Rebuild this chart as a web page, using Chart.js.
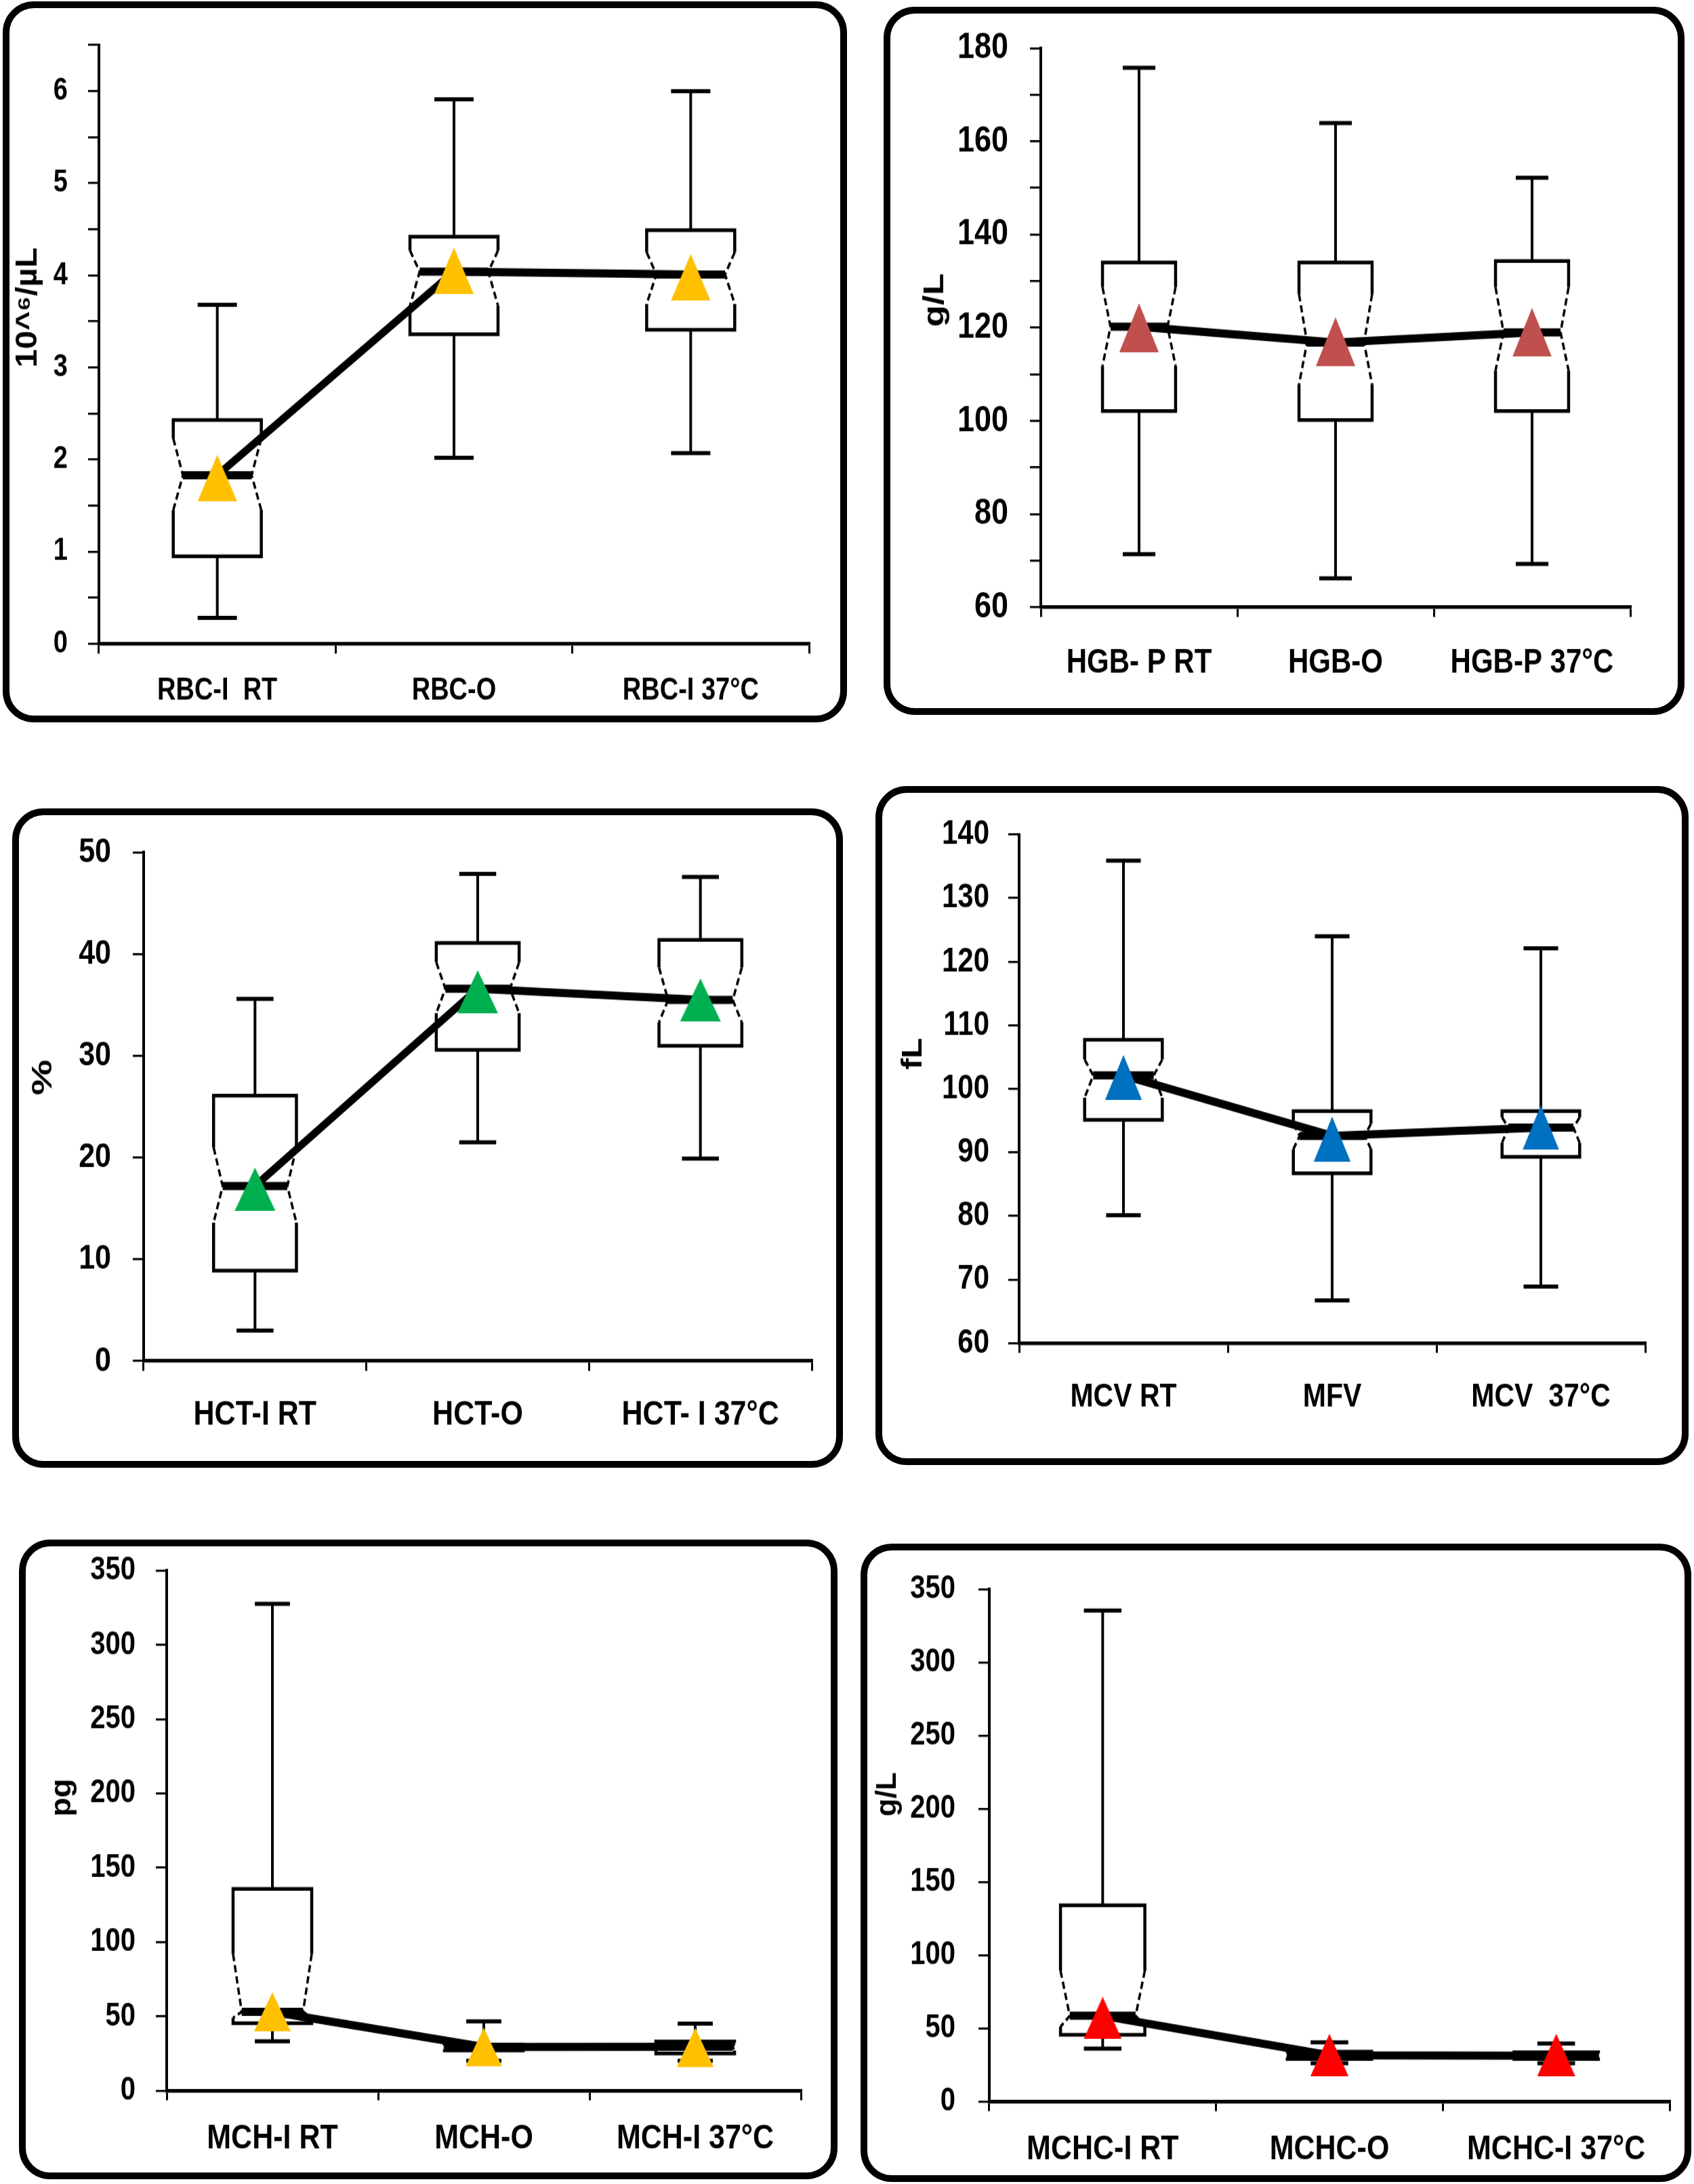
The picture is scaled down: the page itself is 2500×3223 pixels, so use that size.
<!DOCTYPE html>
<html>
<head>
<meta charset="utf-8">
<script src="https://cdn.jsdelivr.net/npm/chart.js@4.4.1/dist/chart.umd.min.js"></script>
<style>
  html, body { margin: 0; padding: 0; background: #fff; }
  body { width: 2500px; height: 3223px; position: relative; overflow: hidden; }
  .frame { position: absolute; box-sizing: border-box; border: 10px solid #000; border-radius: 46px; }
  canvas.plot { position: absolute; }
</style>
</head>
<body>
<script>
// RBC
const rbcLabels = ['RBC-I  RT', 'RBC-O', 'RBC-I 37°C'];
const rbcMin = [0.28, 2.02, 2.07];
const rbcQ1 = [0.95, 3.36, 3.41];
const rbcNotchLo = [1.45, 3.67, 3.69];
const rbcMedian = [1.83, 4.04, 4.01];
const rbcNotchHi = [2.23, 4.27, 4.25];
const rbcQ3 = [2.43, 4.42, 4.49];
const rbcMax = [3.68, 5.91, 6.0];
const rbcMean = [1.80, 4.05, 3.98];
const rbcAxisTicks = [0, 0.5, 1, 1.5, 2, 2.5, 3, 3.5, 4, 4.5, 5, 5.5, 6, 6.5];
const rbcLabeledTicks = [0, 1, 2, 3, 4, 5, 6];

// HGB
const hgbLabels = ['HGB- P RT', 'HGB-O', 'HGB-P 37°C'];
const hgbMin = [71.4, 66.2, 69.3];
const hgbQ1 = [102.1, 100.2, 102.1];
const hgbNotchLo = [111.8, 107.8, 110.8];
const hgbMedian = [120.2, 116.8, 119.0];
const hgbNotchHi = [128.7, 127.2, 128.7];
const hgbQ3 = [134.0, 134.0, 134.3];
const hgbMax = [175.8, 163.9, 152.2];
const hgbMean = [120.0, 117.0, 119.0];
const hgbAxisTicks = [60, 70, 80, 90, 100, 110, 120, 130, 140, 150, 160, 170, 180];
const hgbLabeledTicks = [60, 80, 100, 120, 140, 160, 180];

// HCT
const hctLabels = ['HCT-I RT', 'HCT-O', 'HCT- I 37°C'];
const hctMin = [3.0, 21.5, 19.9];
const hctQ1 = [8.9, 30.6, 31.0];
const hctNotchLo = [13.6, 34.2, 33.3];
const hctMedian = [17.2, 36.6, 35.5];
const hctNotchHi = [21.0, 39.2, 38.7];
const hctQ3 = [26.1, 41.1, 41.4];
const hctMax = [35.6, 47.9, 47.6];
const hctMean = [16.9, 36.3, 35.5];
const hctAxisTicks = [0, 10, 20, 30, 40, 50];
const hctLabeledTicks = [0, 10, 20, 30, 40, 50];

// MCV
const mcvLabels = ['MCV RT', 'MFV', 'MCV  37°C'];
const mcvMin = [80.1, 66.7, 68.9];
const mcvQ1 = [95.1, 86.7, 89.3];
const mcvNotchLo = [98.6, 90.5, 91.5];
const mcvMedian = [102.1, 92.6, 93.9];
const mcvNotchHi = [104.6, 94.5, 95.5];
const mcvQ3 = [107.7, 96.5, 96.5];
const mcvMax = [135.9, 124.0, 122.1];
const mcvMean = [101.8, 92.1, 93.9];
const mcvAxisTicks = [60, 70, 80, 90, 100, 110, 120, 130, 140];
const mcvLabeledTicks = [60, 70, 80, 90, 100, 110, 120, 130, 140];

// MCH
const mchLabels = ['MCH-I RT', 'MCH-O', 'MCH-I 37°C'];
const mchMin = [33.1, 20, 20];
const mchQ1 = [45.3, 27, 25];
const mchNotchLo = [49, 28, 27];
const mchMedian = [53, 29.3, 29.5];
const mchNotchHi = [92, 30, 32];
const mchQ3 = [135.8, 31, 33];
const mchMax = [327.7, 46.5, 45.1];
const mchMean = [53, 29.2, 29];
const mchAxisTicks = [0, 50, 100, 150, 200, 250, 300, 350];
const mchLabeledTicks = [0, 50, 100, 150, 200, 250, 300, 350];

// MCHC
const mchcLabels = ['MCHC-I RT', 'MCHC-O', 'MCHC-I 37°C'];
const mchcMin = [36, 26, 26];
const mchcQ1 = [45.5, 29, 29];
const mchcNotchLo = [51, 30, 30];
const mchcMedian = [58.5, 31.5, 31.2];
const mchcNotchHi = [89.3, 33, 32.5];
const mchcQ3 = [134, 34, 33.5];
const mchcMax = [335.6, 40.4, 39.5];
const mchcMean = [57, 31.7, 31.7];
const mchcAxisTicks = [0, 50, 100, 150, 200, 250, 300, 350];
const mchcLabeledTicks = [0, 50, 100, 150, 200, 250, 300, 350];

const FONT = "'Liberation Sans', Arial, sans-serif";
const S = 1.2; // the source figure is stretched vertically; canvases are drawn short and scaled up by CSS

// frame rect [left, top, width, height] and plot-area margins, in page pixels
const panels = [
  { box: [4, 2, 1246, 1064], yW: 142, padTop: 64.5, padRight: 56, xH: 116,
    labels: rbcLabels, min: rbcMin, q1: rbcQ1, notchLo: rbcNotchLo, median: rbcMedian,
    notchHi: rbcNotchHi, q3: rbcQ3, max: rbcMax, mean: rbcMean,
    yMin: 0, yMax: 6.5, ticks: rbcAxisTicks, labeled: rbcLabeledTicks,
    color: '#FFC000', tri: [58, 68], tickFont: 38, tickPad: 30, xFont: 38, xPad: 23.5,
    title: '10^⁶/µL', titleAt: [38, 452], titleLen: 177, titleFont: 44 },
  { box: [1304, 10, 1182, 1045], yW: 232, padTop: 61, padRight: 80, xH: 159,
    labels: hgbLabels, min: hgbMin, q1: hgbQ1, notchLo: hgbNotchLo, median: hgbMedian,
    notchHi: hgbNotchHi, q3: hgbQ3, max: hgbMax, mean: hgbMean,
    yMin: 60, yMax: 180, ticks: hgbAxisTicks, labeled: hgbLabeledTicks,
    color: '#C0504D', tri: [58, 72], tickFont: 45, tickPad: 32, xFont: 42, xPad: 32,
    title: 'g/L', titleAt: [76, 433], titleLen: 79, titleFont: 42 },
  { box: [18, 1193, 1226, 973], yW: 194, padTop: 65, padRight: 46, xH: 157.5,
    labels: hctLabels, min: hctMin, q1: hctQ1, notchLo: hctNotchLo, median: hctMedian,
    notchHi: hctNotchHi, q3: hctQ3, max: hctMax, mean: hctMean,
    yMin: 0, yMax: 50, ticks: hctAxisTicks, labeled: hctLabeledTicks,
    color: '#00B050', tri: [60, 64], tickFont: 43, tickPad: 32, xFont: 43, xPad: 29,
    title: '%', titleAt: [46, 397], titleLen: 53, titleFont: 42 },
  { box: [1292, 1160, 1200, 1002], yW: 212, padTop: 71.5, padRight: 64, xH: 180,
    labels: mcvLabels, min: mcvMin, q1: mcvQ1, notchLo: mcvNotchLo, median: mcvMedian,
    notchHi: mcvNotchHi, q3: mcvQ3, max: mcvMax, mean: mcvMean,
    yMin: 60, yMax: 140, ticks: mcvAxisTicks, labeled: mcvLabeledTicks,
    color: '#0070C0', tri: [54, 66], tickFont: 42, tickPad: 28, xFont: 41, xPad: 30,
    title: 'fL', titleAt: [56, 395], titleLen: 47, titleFont: 42 },
  { box: [28, 2272, 1208, 944], yW: 218, padTop: 46, padRight: 54, xH: 131,
    labels: mchLabels, min: mchMin, q1: mchQ1, notchLo: mchNotchLo, median: mchMedian,
    notchHi: mchNotchHi, q3: mchQ3, max: mchMax, mean: mchMean,
    yMin: 0, yMax: 350, ticks: mchAxisTicks, labeled: mchLabeledTicks,
    color: '#FFC000', tri: [54, 58], tickFont: 40, tickPad: 30, xFont: 43, xPad: 22,
    title: 'pg', titleAt: [64, 381], titleLen: 56, titleFont: 42 },
  { box: [1270, 2278, 1226, 942], yW: 190, padTop: 67.5, padRight: 32, xH: 119,
    labels: mchcLabels, min: mchcMin, q1: mchcQ1, notchLo: mchcNotchLo, median: mchcMedian,
    notchHi: mchcNotchHi, q3: mchcQ3, max: mchcMax, mean: mchcMean,
    yMin: 0, yMax: 350, ticks: mchcAxisTicks, labeled: mchcLabeledTicks,
    color: '#FF0000', tri: [56, 62], tickFont: 40, tickPad: 34, xFont: 43, xPad: 21.5,
    title: 'g/L', titleAt: [40, 370], titleLen: 65, titleFont: 42 }
];

function triangleImage(color, w, h) {
  const c = document.createElement('canvas');
  c.width = w; c.height = Math.round(h);
  const g = c.getContext('2d');
  g.fillStyle = color;
  g.beginPath();
  g.moveTo(0, c.height); g.lineTo(w / 2, 0); g.lineTo(w, c.height);
  g.closePath();
  g.fill();
  return c;
}

// notched box + whiskers, drawn from the stats through the chart scales
const notchBoxPlugin = {
  id: 'notchBox',
  beforeDatasetsDraw(chart) {
    const p = chart.options.plugins.notchBox;
    if (!p) return;
    const ctx = chart.ctx;
    const x = chart.scales.x, y = chart.scales.y;
    const step = x.getPixelForValue(1) - x.getPixelForValue(0);
    const hw = step * 0.186, cap = step * 0.083;
    const py = v => y.getPixelForValue(v);
    const seg = (pts) => {
      ctx.beginPath();
      ctx.moveTo(pts[0][0], pts[0][1]);
      for (let k = 1; k < pts.length; k++) ctx.lineTo(pts[k][0], pts[k][1]);
      ctx.stroke();
    };
    p.median.forEach((m, i) => {
      const cx = x.getPixelForValue(i);
      const yMax = py(p.max[i]), yMin = py(p.min[i]);
      const yq3 = py(p.q3[i]), yq1 = py(p.q1[i]);
      const yh = py(p.notchHi[i]), yl = py(p.notchLo[i]), ym = py(m);
      const ind = Math.min(hw * 0.22, (yl - yh) * S * 0.25);
      const L = cx - hw, R = cx + hw;
      ctx.save();
      ctx.strokeStyle = '#000';
      ctx.lineCap = 'butt';
      // whiskers
      ctx.lineWidth = 4;
      seg([[cx, yMax], [cx, yq3]]);
      seg([[cx, yq1], [cx, yMin]]);
      ctx.lineWidth = 5;
      seg([[cx - cap, yMax], [cx + cap, yMax]]);
      seg([[cx - cap, yMin], [cx + cap, yMin]]);
      // box fill
      ctx.fillStyle = '#fff';
      ctx.beginPath();
      [[L, yq3], [R, yq3], [R, yh], [R - ind, ym], [R, yl], [R, yq1], [L, yq1], [L, yl], [L + ind, ym], [L, yh]]
        .forEach((pt, k) => k ? ctx.lineTo(pt[0], pt[1]) : ctx.moveTo(pt[0], pt[1]));
      ctx.closePath();
      ctx.fill();
      // solid outline parts
      ctx.lineWidth = 4.5;
      ctx.lineJoin = 'miter';
      seg([[L, yh], [L, yq3], [R, yq3], [R, yh]]);
      seg([[L, yl], [L, yq1], [R, yq1], [R, yl]]);
      // dashed notches
      ctx.lineWidth = 3.5;
      ctx.setLineDash([9, 5]);
      seg([[L, yh], [L + ind, ym], [L, yl]]);
      seg([[R, yh], [R - ind, ym], [R, yl]]);
      ctx.setLineDash([]);
      // median bar
      ctx.lineWidth = 10;
      seg([[L + ind, ym], [R - ind, ym]]);
      ctx.restore();
    });
  }
};

// rotated y-axis title
const yTitlePlugin = {
  id: 'yTitle',
  afterDraw(chart) {
    const t = chart.options.plugins.yTitle;
    if (!t) return;
    const ctx = chart.ctx;
    ctx.save();
    ctx.translate(t.x, t.y);
    ctx.rotate(-Math.PI / 2);
    ctx.font = 'bold ' + t.size + 'px ' + FONT;
    ctx.fillStyle = '#000';
    ctx.textAlign = 'center';
    ctx.textBaseline = 'middle';
    const w = ctx.measureText(t.text).width;
    ctx.scale(t.len / w, 1);
    ctx.fillText(t.text, 0, 0);
    ctx.restore();
  }
};

panels.forEach(p => {
  const [left, top, w, h] = p.box;
  const frame = document.createElement('div');
  frame.className = 'frame';
  Object.assign(frame.style, { left: left + 'px', top: top + 'px', width: w + 'px', height: h + 'px' });
  document.body.appendChild(frame);

  const canvas = document.createElement('canvas');
  canvas.className = 'plot';
  canvas.width = w; canvas.height = Math.round(h / S);
  Object.assign(canvas.style, { left: left + 'px', top: top + 'px', width: w + 'px', height: h + 'px' });
  document.body.appendChild(canvas);

  const zeroPad = s => { s.paddingTop = 0; s.paddingBottom = 0; s.paddingLeft = 0; s.paddingRight = 0; };

  new Chart(canvas.getContext('2d'), {
    type: 'line',
    data: {
      labels: p.labels,
      datasets: [
        {
          label: 'mean',
          data: p.mean,
          showLine: false,
          pointStyle: triangleImage(p.color, p.tri[0], p.tri[1] / S),
          pointRadius: 10,
          order: 1,
          clip: false
        },
        {
          label: 'median',
          data: p.median,
          borderColor: '#000',
          borderWidth: 10,
          pointRadius: 0,
          tension: 0,
          fill: false,
          order: 2,
          clip: false
        }
      ]
    },
    options: {
      responsive: false,
      animation: false,
      devicePixelRatio: 1,
      layout: { padding: { left: 0, top: p.padTop / S, right: p.padRight, bottom: 0 } },
      plugins: {
        legend: { display: false },
        tooltip: { enabled: false },
        notchBox: { min: p.min, q1: p.q1, notchLo: p.notchLo, median: p.median,
                    notchHi: p.notchHi, q3: p.q3, max: p.max },
        yTitle: { text: p.title, x: p.titleAt[0], y: p.titleAt[1] / S, len: p.titleLen / S, size: p.titleFont }
      },
      scales: {
        x: {
          offset: true,
          grid: { offset: true, drawOnChartArea: false, drawTicks: true, tickLength: 12, color: '#000', lineWidth: 3 },
          border: { display: true, color: '#000', width: 4.5 },
          ticks: { color: '#000', font: { family: FONT, size: p.xFont, weight: 'bold' },
                   padding: p.xPad, autoSkip: false, maxRotation: 0 },
          afterFit: s => { s.height = p.xH / S; zeroPad(s); }
        },
        y: {
          min: p.yMin,
          max: p.yMax,
          afterBuildTicks: s => { s.ticks = p.ticks.map(v => ({ value: v })); },
          grid: { drawOnChartArea: false, drawTicks: true, tickLength: 16, color: '#000', lineWidth: 2.6 },
          border: { display: true, color: '#000', width: 4 },
          ticks: {
            color: '#000',
            autoSkip: false,
            padding: p.tickPad,
            font: { family: FONT, size: p.tickFont, weight: 'bold' },
            callback: v => p.labeled.includes(v) ? String(v) : ''
          },
          afterFit: s => { s.width = p.yW; zeroPad(s); }
        }
      }
    },
    plugins: [notchBoxPlugin, yTitlePlugin]
  });
});
</script>
</body>
</html>
